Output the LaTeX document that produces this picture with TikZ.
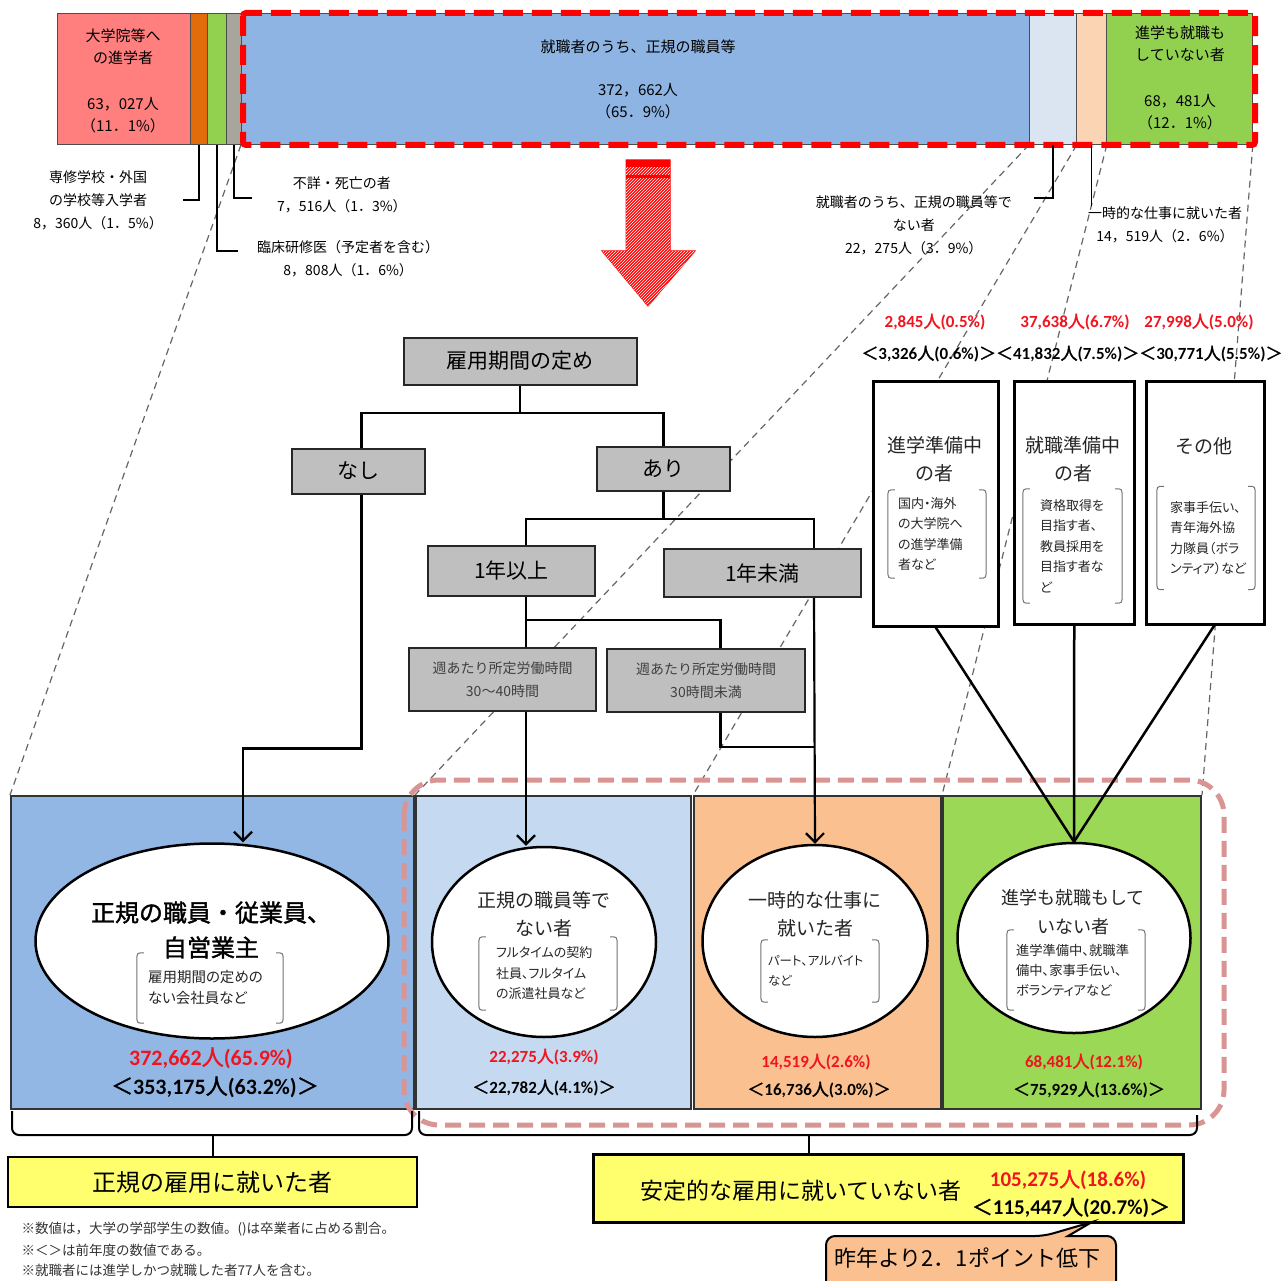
\documentclass[tikz,border=0pt]{standalone}
\usepackage{fontspec}
\setmainfont{Noto Sans CJK JP}[AutoFakeBold=1.5]
\newfontfamily\pjp{Noto Sans CJK JP}[RawFeature=+palt]
\newfontfamily\carl{Carlito}
\usepackage{tikz}
\usetikzlibrary{arrows.meta,positioning,shapes.geometric,patterns}

\definecolor{segpink}{RGB}{255,127,127}
\definecolor{segorange}{RGB}{227,108,10}
\definecolor{seggreen}{RGB}{146,208,80}
\definecolor{seggray}{RGB}{166,166,156}
\definecolor{segblue}{RGB}{141,180,226}
\definecolor{seglb}{RGB}{219,229,241}
\definecolor{segpeach}{RGB}{251,212,180}
\definecolor{boxblue}{RGB}{146,183,229}
\definecolor{boxlb}{RGB}{197,217,241}
\definecolor{boxpeach}{RGB}{250,192,144}
\definecolor{boxgreen}{RGB}{155,216,85}
\definecolor{treegray}{RGB}{191,191,191}
\definecolor{pinkdash}{RGB}{217,149,148}
\definecolor{numred}{RGB}{240,20,30}
\definecolor{yellowbox}{RGB}{255,255,110}

\pgfdeclarelayer{bg}
\pgfsetlayers{bg,main}

\newcommand\fs[2]{\fontsize{#1}{#2}\selectfont}
\newcommand\nin[2]{{\carl #1}人{\carl (#2\%)}}
% curved brackets round a note node
\newcommand\kakko[1]{%
  \draw[kak] ([xshift=7pt]#1.north west) .. controls (#1.north west) .. ([yshift=-9pt]#1.north west)
    -- ([yshift=9pt]#1.south west) .. controls (#1.south west) .. ([xshift=7pt]#1.south west);
  \draw[kak] ([xshift=-7pt]#1.north east) .. controls (#1.north east) .. ([yshift=-9pt]#1.north east)
    -- ([yshift=9pt]#1.south east) .. controls (#1.south east) .. ([xshift=-7pt]#1.south east);}

\begin{document}
\begin{tikzpicture}[x=1pt, y=-1pt,
    seg/.style={draw=black!70, line width=0.8pt, anchor=north west, minimum height=131pt, inner sep=0pt},
    bartxt/.style={align=center, font=\fs{15}{22}},
    lbl/.style={align=center, font=\fs{14}{23}, inner ysep=1pt},
    lead/.style={draw=black, line width=1.3pt},
    map/.style={draw=black!60, line width=1.2pt, dash pattern=on 7pt off 5pt},
    tbox/.style={draw=black!85, line width=2pt, fill=treegray, font=\fs{21}{24}},
    wbox/.style={tbox, align=center, font=\fs{14}{23}, text=black!75},
    tline/.style={draw=black, line width=2.5pt},
    arr/.style={draw=black, line width=2.2pt, -{Straight Barb[length=9pt,width=18pt]}},
    big/.style={draw=black!80, line width=2pt, anchor=north west, minimum height=313pt, inner sep=0pt},
    oval/.style={ellipse, draw=black, line width=2.5pt, fill=white, inner sep=0pt},
    ttl/.style={align=center, font=\fs{19}{28}, text=black!85},
    sub/.style={align=left, inner ysep=0pt, font=\pjp\fs{13}{20.5}, text=black!85},
    kak/.style={draw=black!55, line width=1pt},
    rbox/.style={draw=black, line width=2.5pt, fill=white, anchor=north west, inner sep=0pt},
    rednum/.style={text=numred, font=\bfseries\fs{17}{20}},
    blknum/.style={font=\bfseries\fs{17}{20}},
    ybox/.style={draw=black, line width=2.5pt, fill=yellowbox},
    brc/.style={draw=black, line width=2pt},
    note/.style={anchor=west, font=\fs{13.5}{16}, text=black!80}
    ]
    \begin{pgfonlayer}{bg}
      \fill[white] (0,0) rectangle (1284,1281);
    \end{pgfonlayer}
    \useasboundingbox (0,0) rectangle (1284,1281);

    % bar of all graduates
    \node[seg, fill=segpink, minimum width=133pt] (grad) at (57,13) {};
    \node[seg, fill=segorange, minimum width=17pt] (senm) at (190,13) {};
    \node[seg, fill=seggreen, minimum width=19pt] (rinsho) at (207,13) {};
    \node[seg, fill=seggray, minimum width=15pt] (fusho) at (226,13) {};
    \node[seg, fill=segblue, minimum width=788pt] (seiki) at (241,13) {};
    \node[seg, fill=seglb, minimum width=47pt] (hisei) at (1029,13) {};
    \node[seg, fill=segpeach, minimum width=30pt] (ichiji) at (1076,13) {};
    \node[seg, fill=seggreen, minimum width=146pt] (mushin) at (1106,13) {};
    \draw[red, line width=6pt, dash pattern=on 20pt off 9pt, rounded corners=3pt] (243,13) rectangle (1255,145);

    \node[bartxt] (gradt) at (123,47) {大学院等へ\\の進学者};
    \node[bartxt] (gradn) at (123,115) {63，027人\\（11．1\%）};
    \node[bartxt] (seikit) at (638,47) {就職者のうち、正規の職員等};
    \node[bartxt] (seikin) at (638,101) {372，662人\\（65．9\%）};
    \node[bartxt] (mushint) at (1180,44) {進学も就職も\\していない者};
    \node[bartxt] (mushinn) at (1180,112) {68，481人\\（12．1\%）};

    % leaders to the small groups
    \node[lbl, anchor=east, inner xsep=20pt] (senl) at (183,200) {専修学校・外国\\の学校等入学者\\8，360人（1．5\%）};
    \node[lbl, anchor=west, inner xsep=19pt] (rinl) at (238,259) {臨床研修医（予定者を含む）\\8，808人（1．6\%）};
    \node[lbl, anchor=west, inner xsep=25pt] (fusl) at (252,195) {不詳・死亡の者\\7，516人（1．3\%）};
    \node[lbl, anchor=east, inner xsep=22pt] (hisl) at (1034,225) {就職者のうち、正規の職員等で\\ない者\\22，275人（3．9\%）};
    \node[lbl] (ichil) at (1165,225) {一時的な仕事に就いた者\\14，519人（2．6\%）};
    \draw[lead] (senm.south) |- (senl.east);
    \draw[lead] (rinsho.south) |- ([yshift=8pt]rinl.west);
    \draw[lead] (fusho.south) |- ([yshift=-3pt]fusl.west);
    \draw[lead] (hisei.south) |- ([yshift=27pt]hisl.east);
    \draw[lead] (ichiji.south) -- (ichiji.south |- ichil.north);

    % red hatched arrow
    \path[fill=red, draw=red, line width=1pt, postaction={pattern=north east lines, pattern color=white}]
      (626,160) -- (670,160) -- (670,251) -- (695,251) -- (648,306) -- (602,251) -- (626,251) -- cycle;
    \fill[red] (626,160) rectangle (670,167);
    \fill[red] (626,175) rectangle (670,178);

    % tree of the employment term
    \node[tbox, minimum width=233pt, minimum height=47pt] (kikan) at (520,361) {雇用期間の定め};
    \node[tbox, minimum width=133pt, minimum height=45pt] (nasi) at (358.5,471) {なし};
    \node[tbox, minimum width=133pt, minimum height=44pt] (ari) at (663.5,469) {あり};
    \node[tbox, minimum width=167pt, minimum height=50pt] (ijo) at (511.5,571) {1年以上};
    \node[tbox, minimum width=197pt, minimum height=48pt] (miman) at (762.5,573) {1年未満};
    \node[wbox, minimum width=187pt, minimum height=63pt] (w1) at (502.5,679.5) {週あたり所定労働時間\\30〜40時間};
    \node[wbox, minimum width=198pt, minimum height=63pt] (w2) at (706,680.5) {週あたり所定労働時間\\30時間未満};
    \coordinate (j1) at (520,413);
    \coordinate (j2) at (663.5,519);
    \coordinate (j3) at (526,620);
    \coordinate (j5) at (814,747);
    \draw[tline] (kikan.south) -- (j1);
    \draw[tline] ([xshift=3pt]nasi.north) |- (j1) -| (ari.north);
    \draw[tline] (ari.south) -- (j2);
    \draw[tline] ([xshift=14.5pt]ijo.north) |- (j2) -| ([xshift=51.5pt]miman.north);
    \draw[tline] ([xshift=14.5pt]ijo.south) -- (j3);
    \draw[tline] ([xshift=23.5pt]w1.north) |- (j3) -| ([xshift=14.5pt]w2.north);
    \draw[tline] ([xshift=14.5pt]w2.south) |- (j5);

    % the three groups of the last segment
    \node[rbox, minimum width=125pt, minimum height=245pt] (sinb) at (872,380) {};
    \node[rbox, minimum width=120pt, minimum height=243pt] (shub) at (1013,380) {};
    \node[rbox, minimum width=118pt, minimum height=243pt] (sonb) at (1145,380) {};
    \node[ttl] (sint) at (934.5,459) {進学準備中\\の者};
    \node[ttl] (shut) at (1073,459) {就職準備中\\の者};
    \node[ttl] (sont) at (1204,446) {その他};
    \node[sub, text width=78pt, inner xsep=10pt, minimum height=88pt] (sins) at (937,534) {国内・海外\\の大学院へ\\の進学準備\\者など};
    \node[sub, text width=65pt, inner xsep=17pt, minimum height=114pt] (shus) at (1072.5,546) {資格取得を\\目指す者、\\教員採用を\\目指す者な\\ど};
    \node[sub, text width=72pt, inner xsep=13pt, minimum height=103pt] (sons) at (1206,538) {家事手伝い、\\青年海外協\\力隊員（ボラ\\ンティア）など};
    \kakko{sins}
    \kakko{shus}
    \kakko{sons}
    \node[rednum] (sinr) at (935,322) {\nin{2,845}{0.5}};
    \node[rednum] (shur) at (1075,322) {\nin{37,638}{6.7}};
    \node[rednum] (sonr) at (1199,322) {\nin{27,998}{5.0}};
    \node[blknum] (prevr) at (1072,354) {＜\nin{3,326}{0.6}＞＜\nin{41,832}{7.5}＞＜\nin{30,771}{5.5}＞};

    % result boxes
    \node[big, fill=boxblue, minimum width=403pt] (seikib) at (10,795) {};
    \node[big, fill=boxlb, minimum width=275pt] (hiseib) at (415,795) {};
    \node[big, fill=boxpeach, minimum width=247pt] (ichijib) at (693,795) {};
    \node[big, fill=boxgreen, minimum width=258pt] (mushinb) at (942,795) {};
    \draw[pinkdash, line width=5pt, dash pattern=on 16pt off 8pt, rounded corners=35pt] (404,780) rectangle (1224,1125);

    \node[oval, minimum width=353pt, minimum height=195pt] (seikiel) at (212,941) {};
    \node[oval, minimum width=224pt, minimum height=190pt] (hiseiel) at (544,942) {};
    \node[oval, minimum width=225pt, minimum height=192pt] (ichijiel) at (815,941) {};
    \node[oval, minimum width=233pt, minimum height=190pt] (mushinel) at (1074,938) {};

    \node[align=center, font=\bfseries\fs{24}{35}] (seikiet) at (211,930) {正規の職員・従業員、\\自営業主};
    \node[ttl] (hiseiet) at (544,914) {正規の職員等で\\ない者};
    \node[ttl] (ichijiet) at (815,914) {一時的な仕事に\\就いた者};
    \node[ttl, font=\fs{18}{29}] (mushinet) at (1073,912) {進学も就職もして\\いない者};
    \node[sub, text width=124pt, inner xsep=11pt, minimum height=70pt, font=\pjp\fs{14.5}{21}] (seikis) at (210,988) {雇用期間の定めの\\ない会社員など};
    \node[sub, text width=104pt, inner xsep=17pt, minimum height=73pt] (hiseis) at (548,973.5) {フルタイムの契約\\社員、フルタイム\\の派遣社員など};
    \node[sub, text width=104pt, inner xsep=7pt, minimum height=62pt, font=\pjp\fs{12.5}{20}] (ichijis) at (820,971) {パート、アルバイト\\など};
    \node[sub, text width=120pt, inner xsep=9pt, minimum height=80pt, font=\pjp\fs{13.3}{20}] (mushins) at (1076,970) {進学準備中、就職準\\備中、家事手伝い、\\ボランティアなど};
    \kakko{seikis}
    \kakko{hiseis}
    \kakko{ichijis}
    \kakko{mushins}

    \node[rednum, font=\bfseries\fs{22}{24}] (seikir) at (211,1058) {\nin{372,662}{65.9}};
    \node[blknum, font=\bfseries\fs{22}{24}] (seikip) at (215,1087) {＜\nin{353,175}{63.2}＞};
    \node[rednum] (hiseir) at (544,1057) {\nin{22,275}{3.9}};
    \node[blknum] (hiseip) at (544,1088) {＜\nin{22,782}{4.1}＞};
    \node[rednum] (ichijir) at (816,1062) {\nin{14,519}{2.6}};
    \node[blknum] (ichijip) at (819,1090) {＜\nin{16,736}{3.0}＞};
    \node[rednum] (mushinr) at (1084,1062) {\nin{68,481}{12.1}};
    \node[blknum] (mushinp) at (1089,1090) {＜\nin{75,929}{13.6}＞};

    % arrows into the results
    \draw[arr] ([xshift=3pt]nasi.south) -- ++(0,254) -| ([xshift=31pt]seikiel.north);
    \draw[arr] ([xshift=23.5pt]w1.south) -- ([xshift=23.5pt]w1.south |- hiseiel.north);
    \draw[arr] ([xshift=51.5pt]miman.south) -- (ichijiel.north);
    \draw[tline] (sinb.south) -- (mushinel.north);
    \draw[tline] (shub.south) -- (mushinel.north);
    \draw[tline] ([xshift=9pt]sonb.south) -- (mushinel.north);

    % mapping lines from the bar
    \begin{pgfonlayer}{bg}
      \draw[map] (seiki.south west) -- (seikib.north west);
      \draw[map] (hisei.south west) -- (hiseib.north west);
      \draw[map] (hisei.south east) -- (ichijib.north west);
      \draw[map] (ichiji.south east) -- (mushinb.north west);
      \draw[map] (mushin.south east) -- (mushinb.north east);
    \end{pgfonlayer}

    % braces and totals
    \node[ybox, minimum width=409pt, minimum height=50pt, font=\fs{24}{26}] (seikiy) at (212.5,1182) {正規の雇用に就いた者};
    \node[ybox, minimum width=590pt, minimum height=68pt] (fuany) at (888.5,1188.5) {};
    \node[font=\fs{23}{25}] (fuant) at (801,1191) {安定的な雇用に就いていない者};
    \node[rednum, font=\bfseries\fs{21}{23}] (fuanr) at (1068,1180) {\nin{105,275}{18.6}};
    \node[blknum, font=\bfseries\fs{21}{23}] (fuanp) at (1071,1208) {＜\nin{115,447}{20.7}＞};
    \coordinate (bl) at (212.5,1135);
    \coordinate (br) at (809,1135);
    \draw[brc, rounded corners=7pt] (12,1111) |- (412,1135) -- (412,1111);
    \draw[brc, rounded corners=7pt] (419,1111) |- (1197,1135) -- (1197,1115);
    \draw[brc] (bl) -- (seikiy.north);
    \draw[brc] (br) -- (br |- fuany.north);

    \draw[draw=black, line width=2pt, fill=boxpeach, rounded corners=9pt]
      (826,1236) -- (1044,1236) [sharp corners] -- (1092,1222) -- (1068,1236)
      [rounded corners=9pt] -- (1116,1236) -- (1116,1300) -- (826,1300) -- cycle;
    \node[font=\fs{22}{24}] (teika) at (967,1258) {昨年より2．1ポイント低下};

    \node[note] (note1) at (18,1229) {※数値は，大学の学部学生の数値。()は卒業者に占める割合。};
    \node[note] (note2) at (18,1250) {※＜＞は前年度の数値である。};
    \node[note] (note3) at (18,1270) {※就職者には進学しかつ就職した者77人を含む。};
\end{tikzpicture}
\end{document}
